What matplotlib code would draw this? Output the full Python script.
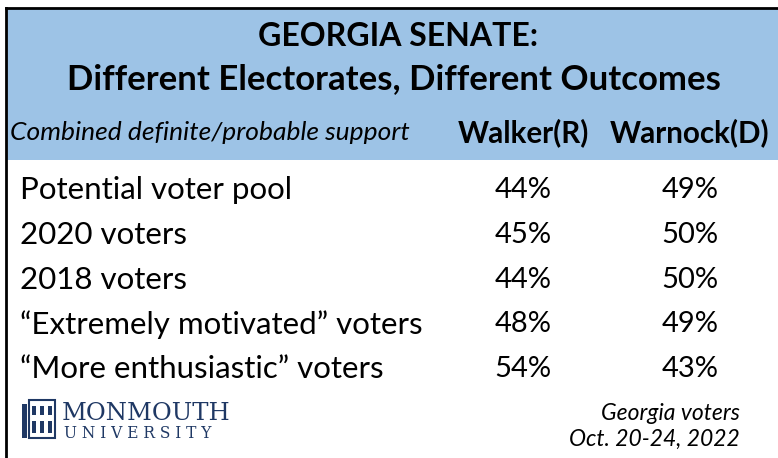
import matplotlib.pyplot as plt
from matplotlib.patches import Rectangle

# --- data ---
groups = ["Potential voter pool", "2020 voters", "2018 voters",
          "\u201cExtremely motivated\u201d voters", "\u201cMore enthusiastic\u201d voters"]
walker = [44, 45, 44, 48, 54]
warnock = [49, 50, 50, 49, 43]
col_labels = ["Walker(R)", "Warnock(D)"]

W, H = 778, 458
fig = plt.figure(figsize=(W / 100, H / 100), dpi=100)
ax = fig.add_axes([0, 0, 1, 1])
ax.set_xlim(0, W)
ax.set_ylim(H, 0)
ax.axis("off")

font = "Lato"
navy = "#1f3864"

# header box
ax.add_patch(Rectangle((6, 8), W, 152, facecolor="#9dc3e6", edgecolor="none"))
ax.plot([6, W], [8, 8], color="black", lw=2)
ax.plot([6, 6], [8, H], color="black", lw=2)

ax.text(398, 37, "GEORGIA SENATE:", ha="center", va="center",
        fontsize=23, fontweight="bold", family=font)
ax.text(394, 79, "Different Electorates, Different Outcomes", ha="center", va="center",
        fontsize=25, fontweight="bold", family=font)
ax.text(10, 133, "Combined definite/probable support", ha="left", va="center",
        fontsize=19, style="italic", family=font)
ax.text(523, 133, col_labels[0], ha="center", va="center",
        fontsize=21.3, fontweight="bold", family=font)
ax.text(690, 133, col_labels[1], ha="center", va="center",
        fontsize=21.3, fontweight="bold", family=font)

# rows
y0, dy = 190, 44.8
for i, g in enumerate(groups):
    y = y0 + i * dy
    ax.text(20, y, g, ha="left", va="center", fontsize=22.5, family=font)
    ax.text(523, y, f"{walker[i]}%", ha="center", va="center", fontsize=21, family=font)
    ax.text(690, y, f"{warnock[i]}%", ha="center", va="center", fontsize=21, family=font)

# logo (simplified building + wordmark)
ax.add_patch(Rectangle((22, 404), 5, 34, facecolor=navy))
ax.add_patch(Rectangle((29, 400), 26, 38, facecolor="none", edgecolor=navy, lw=1.5))
for k in range(3):
    ax.add_patch(Rectangle((32 + k * 8, 406), 4, 9, facecolor=navy))
    ax.add_patch(Rectangle((32 + k * 8, 421), 4, 12, facecolor=navy))
ax.text(62, 414, "MONMOUTH", ha="left", va="center", fontsize=17.5,
        family="DejaVu Serif", color=navy)
ax.text(64, 433, "U N I V E R S I T Y", ha="left", va="center", fontsize=11.2,
        family="DejaVu Serif", color=navy)

ax.text(740, 413, "Georgia voters", ha="right", va="center",
        fontsize=16.5, style="italic", family=font)
ax.text(740, 439, "Oct. 20-24, 2022", ha="right", va="center",
        fontsize=16.5, style="italic", family=font)

fig.savefig("out.png", dpi=100)
